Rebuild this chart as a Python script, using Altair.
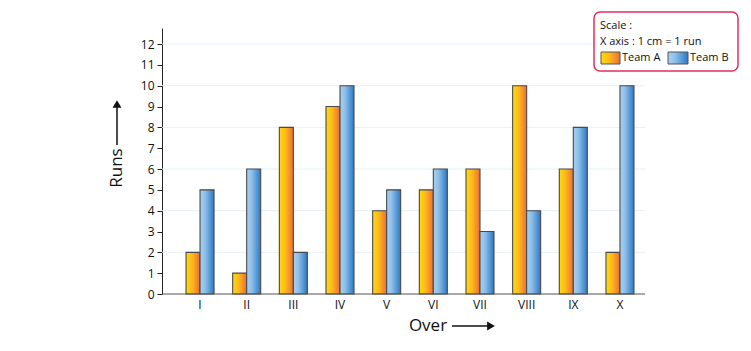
import altair as alt
import pandas as pd

overs = ["I", "II", "III", "IV", "V", "VI", "VII", "VIII", "IX", "X"]
team_a = [2, 1, 8, 9, 4, 5, 6, 10, 6, 2]
team_b = [5, 6, 2, 10, 5, 6, 3, 4, 8, 10]
teams = ["Team A", "Team B"]
y_ticks = list(range(0, 13))
grid_values = [2, 4, 6, 8, 10, 12]

W, H = 483, 266
FONT = "Open Sans"

rows = []
for o, a, b in zip(overs, team_a, team_b):
    rows.append({"over": o, "team": "Team A", "runs": a})
    rows.append({"over": o, "team": "Team B", "runs": b})
df = pd.DataFrame(rows)

grad_a = alt.Gradient(
    gradient="linear", x1=0, x2=1, y1=0, y2=0,
    stops=[alt.GradientStop(color="#FFDA0E", offset=0),
           alt.GradientStop(color="#FBB81C", offset=0.45),
           alt.GradientStop(color="#EE6C3A", offset=1)])
grad_b = alt.Gradient(
    gradient="linear", x1=0, x2=1, y1=0, y2=0,
    stops=[alt.GradientStop(color="#A9D0F0", offset=0),
           alt.GradientStop(color="#8FC0EA", offset=0.35),
           alt.GradientStop(color="#2C78C4", offset=1)])

xscale = alt.Scale(domain=overs, range=[14.7, 481.3], paddingInner=0.4, paddingOuter=0.2)
yscale = alt.Scale(domain=[0, 12.77], nice=False, zero=True)
xaxis = alt.Axis(title=None, domain=False, ticks=False, labelFont=FONT, labelFontSize=12,
                 labelColor="#111", labelPadding=5, labelAngle=0)
yaxis = alt.Axis(title=None, values=y_ticks, grid=False, domainColor="#222", tickColor="#222",
                 tickSize=5, labelFont=FONT, labelFontSize=12, labelColor="#111", labelPadding=3)

grid = alt.Chart(pd.DataFrame({"v": grid_values})).mark_rule(color="#E4F2F9", strokeWidth=1).encode(
    y=alt.Y("v:Q", scale=yscale, axis=yaxis), x=alt.value(0), x2=alt.value(W))


def enc():
    return dict(
        x=alt.X("over:N", sort=overs, scale=xscale, axis=xaxis),
        xOffset=alt.XOffset("team:N", scale=alt.Scale(domain=teams, paddingInner=0, paddingOuter=0)),
        y=alt.Y("runs:Q", scale=yscale, axis=yaxis))


def bars(team, grad):
    return alt.Chart(df).transform_filter(alt.datum.team == team).mark_bar(
        fill=grad, stroke="#4A4A4A", strokeWidth=1.1).encode(**enc())


shadow1 = alt.Chart(df).mark_bar(fill="#000", opacity=0.05, stroke="#000", strokeWidth=6,
                                 strokeOpacity=0.04, xOffset=3).encode(**enc())
shadow2 = alt.Chart(df).mark_bar(fill="#000", opacity=0.06, stroke="#000", strokeWidth=2,
                                 strokeOpacity=0.05, xOffset=2).encode(**enc())

one = pd.DataFrame({"k": [0]})
xline = alt.Chart(one).mark_rule(color="#555", strokeWidth=1.2).encode(
    x=alt.value(0), x2=alt.value(W), y=alt.value(H))

# axis titles with arrows
over_text = alt.Chart(one).mark_text(font=FONT, fontSize=17, align="center", baseline="middle", color="#111").encode(
    x=alt.value(266), y=alt.value(298), text=alt.value("Over"))
over_arrow = alt.Chart(one).mark_rule(color="#111", strokeWidth=1.5).encode(
    x=alt.value(290), x2=alt.value(326), y=alt.value(298))
over_head = alt.Chart(one).mark_point(shape="triangle-right", filled=True, color="#111", size=80, opacity=1).encode(
    x=alt.value(329), y=alt.value(298))

runs_text = alt.Chart(one).mark_text(font=FONT, fontSize=17, align="center", baseline="middle", angle=270, color="#111").encode(
    x=alt.value(-45), y=alt.value(140), text=alt.value("Runs"))
runs_arrow = alt.Chart(one).mark_rule(color="#111", strokeWidth=1.5).encode(
    x=alt.value(-45), y=alt.value(117), y2=alt.value(79))
runs_head = alt.Chart(one).mark_point(shape="triangle-up", filled=True, color="#111", size=80, opacity=1).encode(
    x=alt.value(-45), y=alt.value(76))

# legend box
LF = dict(font=FONT, fontSize=11, fontWeight=500, align="left", baseline="middle", color="#111")
box = alt.Chart(one).mark_rect(fill="white", stroke="#E0305A", strokeWidth=1.5, cornerRadius=6).encode(
    x=alt.value(432), x2=alt.value(576), y=alt.value(-16), y2=alt.value(43))
t1 = alt.Chart(one).mark_text(**LF).encode(x=alt.value(438), y=alt.value(-2), text=alt.value("Scale :"))
t2 = alt.Chart(one).mark_text(**LF).encode(x=alt.value(438), y=alt.value(14), text=alt.value("X axis : 1 cm = 1 run"))
sw_a = alt.Chart(one).mark_rect(fill=grad_a, stroke="#555", strokeWidth=1).encode(
    x=alt.value(439), x2=alt.value(458), y=alt.value(24), y2=alt.value(36))
sw_b = alt.Chart(one).mark_rect(fill=grad_b, stroke="#555", strokeWidth=1).encode(
    x=alt.value(506), x2=alt.value(526), y=alt.value(24), y2=alt.value(36))
ta = alt.Chart(one).mark_text(**LF).encode(x=alt.value(460), y=alt.value(30), text=alt.value("Team A"))
tb = alt.Chart(one).mark_text(**LF).encode(x=alt.value(528), y=alt.value(30), text=alt.value("Team B"))

chart = alt.layer(
    grid, shadow1, shadow2, bars("Team A", grad_a), bars("Team B", grad_b), xline,
    over_text, over_arrow, over_head, runs_text, runs_arrow, runs_head,
    box, t1, t2, sw_a, sw_b, ta, tb
).properties(
    width=W, height=H,
    autosize=alt.AutoSizeParams(type="none"),
    padding={"left": 162, "top": 28, "right": 106, "bottom": 57},
    background="white",
).configure_view(stroke=None)

chart.save("out.html", embed_options={"renderer": "svg", "actions": False})
